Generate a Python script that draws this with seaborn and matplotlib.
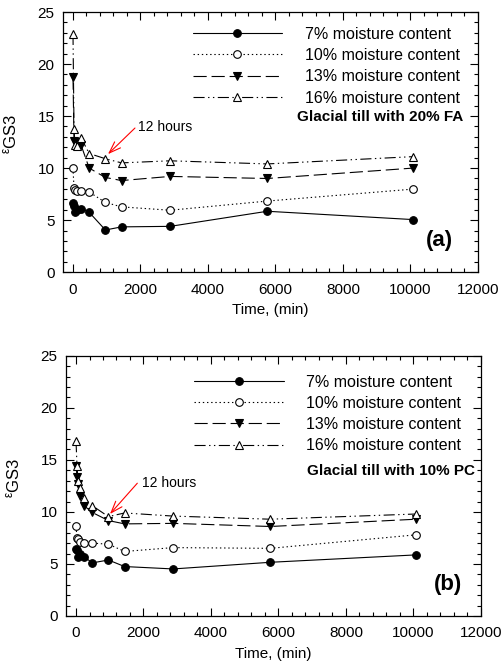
import matplotlib
matplotlib.use("Agg")
import matplotlib.pyplot as plt
from matplotlib.ticker import MultipleLocator
import seaborn as sns
import pandas as pd

# ---------------- data ----------------
time_min = [0, 30, 60, 120, 240, 480, 960, 1440, 2880, 5760, 10080]
labels = ["7% moisture content", "10% moisture content",
          "13% moisture content", "16% moisture content"]

# (a) Glacial till with 20% FA
fa_7 = [6.6, 6.4, 5.8, 6.0, 6.1, 5.75, 4.05, 4.35, 4.4, 5.85, 5.05]
fa_10 = [10.0, 8.05, 7.9, 7.8, 7.75, 7.7, 6.7, 6.27, 5.95, 6.83, 7.98]
fa_13 = [18.8, 12.6, 12.5, 12.3, 12.2, 10.0, 9.1, 8.8, 9.2, 9.0, 10.0]
fa_16 = [22.9, 13.8, 12.2, 12.1, 12.9, 11.4, 10.9, 10.5, 10.7, 10.4, 11.1]

# (b) Glacial till with 10% PC
pc_7 = [6.45, 6.35, 5.65, 6.0, 5.7, 5.1, 5.38, 4.75, 4.52, 5.16, 5.87]
pc_10 = [8.6, 7.5, 7.4, 7.1, 7.05, 7.0, 6.9, 6.2, 6.57, 6.5, 7.8]
pc_13 = [14.4, 13.4, 12.7, 11.5, 10.6, 9.95, 9.17, 8.85, 8.9, 8.6, 9.3]
pc_16 = [16.8, 14.4, 13.0, 12.3, 11.3, 10.6, 9.55, 9.9, 9.6, 9.3, 9.8]

x_ticks = [0, 2000, 4000, 6000, 8000, 10000, 12000]
y_ticks = [0, 5, 10, 15, 20, 25]

# ---------------- style ----------------
sns.set_theme(style="ticks")
plt.rcParams["font.family"] = ["Liberation Sans", "DejaVu Sans"]
plt.rcParams["mathtext.fontset"] = "custom"
plt.rcParams["mathtext.rm"] = "Liberation Sans"
plt.rcParams["mathtext.default"] = "regular"
plt.rcParams["lines.scale_dashes"] = False
plt.rcParams["text.color"] = "black"
plt.rcParams["axes.labelcolor"] = "black"
plt.rcParams["xtick.color"] = "black"
plt.rcParams["ytick.color"] = "black"

styles = [
    dict(marker="o", mfc="black", ms=5.5, linestyle="-"),
    dict(marker="o", mfc="white", ms=5.5, linestyle=(0, (1.0, 2.0))),
    dict(marker="v", mfc="black", ms=6, linestyle=(0, (9.5, 3.5))),
    dict(marker="^", mfc="white", ms=6, linestyle=(0, (8, 2.5, 1, 2.5, 1, 2.5))),
]

fig = plt.figure(figsize=(5.03, 6.67), dpi=100)
ax_a = fig.add_axes([0.125, 0.592, 0.825, 0.390])
ax_b = fig.add_axes([0.131, 0.0765, 0.825, 0.390])


def draw(ax, series, title, tag, tag_x, title_x, title_y, arrow_from, arrow_to,
         text_xy, leg_anchor):
    for vals, lab, st in zip(series, labels, styles):
        df = pd.DataFrame({"t": time_min, "e": vals})
        sns.lineplot(data=df, x="t", y="e", ax=ax, color="black", lw=0.8,
                     marker=st["marker"], markerfacecolor=st["mfc"],
                     markeredgecolor="black", markeredgewidth=0.8,
                     markersize=st["ms"], linestyle=st["linestyle"],
                     label=lab, estimator=None, sort=False)
    ax.set_xlim(-300, 12000)
    ax.set_ylim(0, 25)
    ax.set_xticks(x_ticks)
    ax.set_yticks(y_ticks)
    ax.xaxis.set_minor_locator(MultipleLocator(400))
    ax.yaxis.set_minor_locator(MultipleLocator(1))
    ax.tick_params(which="both", direction="in", top=True, right=True,
                   labelsize=11, colors="black", width=0.8)
    ax.tick_params(which="major", length=5.5)
    ax.tick_params(which="minor", length=3)
    ax.tick_params(axis="x", which="major", pad=7.5)
    ax.tick_params(axis="y", which="major", pad=6)
    for s in ax.spines.values():
        s.set_linewidth(0.9)
        s.set_color("black")
    ax.set_xlabel("Time, (min)", fontsize=11, labelpad=4.5)
    ax.set_ylabel(r"$^{ε}$GS3", fontsize=12)
    ax.yaxis.set_label_coords(-0.104, 0.53)
    ax.text(title_x, title_y, title, ha="right", va="center",
            fontsize=11, fontweight="bold")
    ax.text(tag_x, 3.05, tag, ha="right", va="center",
            fontsize=16, fontweight="bold")
    ax.annotate("", xy=arrow_to, xytext=arrow_from,
                arrowprops=dict(arrowstyle="->,head_length=0.7,head_width=0.25",
                                color="red", lw=0.8, shrinkA=0, shrinkB=0))
    ax.text(text_xy[0], text_xy[1], "12 hours", ha="left", va="center",
            fontsize=10)
    ax.legend(loc="upper left", bbox_to_anchor=leg_anchor, frameon=False,
              fontsize=11.5, handlelength=5.6, handletextpad=1.4,
              labelspacing=0.39, borderpad=0, borderaxespad=0)


draw(ax_a, [fa_7, fa_10, fa_13, fa_16], "Glacial till with 20% FA", "(a)",
     11260, 11560, 14.9, (1837, 13.85), (1037, 11.34), (1926, 13.94),
     (0.313, 0.943))
draw(ax_b, [pc_7, pc_10, pc_13, pc_16], "Glacial till with 10% PC", "(b)",
     11430, 11820, 13.9, (1817, 12.76), (1007, 9.8), (1946, 12.76),
     (0.309, 0.928))

fig.savefig("out.png", dpi=100)
